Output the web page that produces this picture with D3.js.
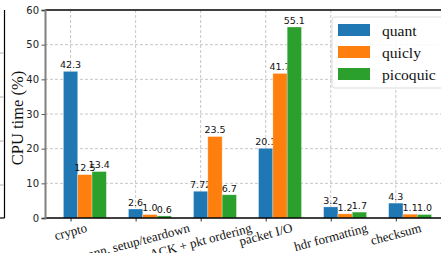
<!DOCTYPE html>
<html>
<head>
<meta charset="utf-8">
<script src="https://cdn.jsdelivr.net/npm/d3@7"></script>
<style>
  body { margin: 0; background: #fff; }
  svg { display: block; }
</style>
</head>
<body>
<div id="chart"></div>
<script>
// values
var categories = ["crypto", "conn. setup/teardown", "ACK + pkt ordering", "packet I/O", "hdr formatting", "checksum"]
var seriesNames = ["quant", "quicly", "picoquic"]
var quant = [42.3, 2.6, 7.72, 20.1, 3.2, 4.3]
var quicly = [12.5, 1.0, 23.5, 41.7, 1.2, 1.1]
var picoquic = [13.4, 0.6, 6.7, 55.1, 1.7, 1.0]
var labelsQuant = ["42.3", "2.6", "7.72", "20.1", "3.2", "4.3"]
var labelsQuicly = ["12.5", "1.0", "23.5", "41.7", "1.2", "1.1"]
var labelsPico = ["13.4", "0.6", "6.7", "55.1", "1.7", "1.0"]
var yTicks = [0, 10, 20, 30, 40, 50, 60]

var colors = ["#1f77b4", "#ff7f0e", "#2ca02c"]
var series = [quant, quicly, picoquic]
var seriesLabels = [labelsQuant, labelsQuicly, labelsPico]

var svgWidth = 441
var svgHeight = 253
var barW = 0.22

var svg = d3.select("#chart")
    .append("svg")
    .attr("width", svgWidth)
    .attr("height", svgHeight)

var x = d3.scaleLinear().domain([-0.393, 5.833]).range([45, 450])
var y = d3.scaleLinear().domain([0, 60]).range([218, 10])

// fragment of the neighbouring panel on the left edge
var fragY = d3.scaleLinear().domain([0, 4]).range([53, 229])
svg.append("line")
    .attr("x1", 4.5).attr("x2", 4.5)
    .attr("y1", 10).attr("y2", 218)
    .attr("stroke", "#000").attr("stroke-width", 1.2)
svg.append("line")
    .attr("x1", 0).attr("x2", 4.5)
    .attr("y1", 218).attr("y2", 218)
    .attr("stroke", "#000").attr("stroke-width", 1.2)
svg.selectAll(".fragtick")
    .data([0, 1, 2, 3])
    .enter()
    .append("line")
    .attr("x1", 0).attr("x2", 3.5)
    .attr("y1", d => fragY(d)).attr("y2", d => fragY(d))
    .attr("stroke", "#999").attr("stroke-width", 0.8)

// grid
var grid = svg.append("g")
grid.selectAll(".hgrid")
    .data(yTicks.slice(1, -1))
    .enter()
    .append("line")
    .attr("x1", 45).attr("x2", svgWidth)
    .attr("y1", d => y(d)).attr("y2", d => y(d))
    .attr("stroke", "#b8b8b8").attr("stroke-width", 0.8)
    .attr("stroke-dasharray", "3,2")
grid.selectAll(".vgrid")
    .data(categories)
    .enter()
    .append("line")
    .attr("x1", (d, i) => x(i)).attr("x2", (d, i) => x(i))
    .attr("y1", 10).attr("y2", 218)
    .attr("stroke", "#b8b8b8").attr("stroke-width", 0.8)
    .attr("stroke-dasharray", "3,2")

// bars
series.forEach(function (vals, j) {
    svg.selectAll(".bar" + j)
        .data(vals)
        .enter()
        .append("rect")
        .attr("x", (d, i) => x(i + j * barW - barW / 2))
        .attr("width", x(barW) - x(0))
        .attr("y", d => y(d))
        .attr("height", d => y(0) - y(d))
        .attr("fill", colors[j])
        .attr("stroke", "#fff")
        .attr("stroke-opacity", 0.5)
        .attr("stroke-width", 0.6)
    svg.selectAll(".val" + j)
        .data(vals)
        .enter()
        .append("text")
        .attr("x", (d, i) => x(i + j * barW))
        .attr("y", d => y(d) - 3.2)
        .attr("text-anchor", "middle")
        .attr("font-family", "DejaVu Sans")
        .attr("font-size", "9.5px")
        .attr("fill", "#111")
        .text((d, i) => seriesLabels[j][i])
})

// spines
svg.append("line")
    .attr("x1", 45).attr("x2", svgWidth)
    .attr("y1", 10).attr("y2", 10)
    .attr("stroke", "#000").attr("stroke-width", 1.3)
svg.append("line")
    .attr("x1", 45).attr("x2", svgWidth)
    .attr("y1", 218).attr("y2", 218)
    .attr("stroke", "#000").attr("stroke-width", 1.3)

// y axis
var yAxis = svg.append("g")
    .attr("transform", "translate(45,0)")
    .call(d3.axisLeft(y).tickValues(yTicks).tickSize(3.5).tickPadding(2.5))
yAxis.select(".domain").attr("stroke", "#808080").attr("stroke-width", 2)
yAxis.selectAll(".tick line").attr("stroke", "#333").attr("stroke-width", 0.8)
yAxis.selectAll(".tick text")
    .attr("font-family", "DejaVu Sans")
    .attr("font-size", "10px")
    .attr("fill", "#222")

// x axis ticks
var xAxis = svg.append("g")
    .attr("transform", "translate(0,218)")
    .call(d3.axisBottom(x).tickValues(d3.range(categories.length)).tickSize(3.5).tickFormat(""))
xAxis.select(".domain").remove()
xAxis.selectAll(".tick line").attr("stroke", "#000").attr("stroke-width", 0.8)

// rotated category labels, centred on the tick
var ang = 15 * Math.PI / 180
svg.selectAll(".xlab")
    .data(categories)
    .enter()
    .append("text")
    .attr("text-anchor", "middle")
    .attr("dominant-baseline", "central")
    .attr("font-family", "Liberation Serif")
    .attr("font-size", "13px")
    .attr("fill", "#111")
    .text(d => d)
    .each(function (d, i) {
        var w = this.getComputedTextLength()
        var h = 13
        var cy = 221 + (w * Math.sin(ang) + h * Math.cos(ang)) / 2
        d3.select(this).attr("transform", `translate(${x(i)},${cy}) rotate(-15)`)
    })

// y label
svg.append("text")
    .attr("transform", "translate(22.5,118) rotate(-90)")
    .attr("text-anchor", "middle")
    .attr("font-family", "Liberation Serif")
    .attr("font-size", "16.5px")
    .attr("fill", "#111")
    .text("CPU time (%)")

// legend
var legend = svg.append("g")
legend.append("rect")
    .attr("x", 332).attr("y", 17)
    .attr("width", 114).attr("height", 71)
    .attr("rx", 3)
    .attr("fill", "#fff").attr("fill-opacity", 0.85)
    .attr("stroke", "#d6d6d6").attr("stroke-width", 0.9)
seriesNames.forEach(function (name, j) {
    legend.append("rect")
        .attr("x", 338).attr("y", 24 + j * 22)
        .attr("width", 32).attr("height", 12)
        .attr("fill", colors[j])
    legend.append("text")
        .attr("x", 382).attr("y", 30 + j * 22)
        .attr("dominant-baseline", "central")
        .attr("font-family", "Liberation Serif")
        .attr("font-size", "15.6px")
        .attr("fill", "#111")
        .text(name)
})
</script>
</body>
</html>
